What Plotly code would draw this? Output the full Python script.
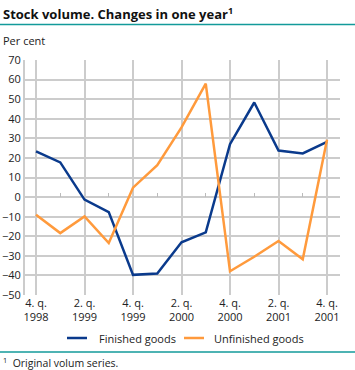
import plotly.graph_objects as go

quarters = ["4q1998", "1q1999", "2q1999", "3q1999", "4q1999", "1q2000", "2q2000",
            "3q2000", "4q2000", "1q2001", "2q2001", "3q2001", "4q2001"]
tick_labels = ["4. q.<br>1998", "2. q.<br>1999", "4. q.<br>1999", "2. q.<br>2000",
               "4. q.<br>2000", "2. q.<br>2001", "4. q.<br>2001"]
finished = [23.3, 17.7, -1.3, -7.7, -39.7, -39.0, -23.1, -18.0, 27.0, 48.3, 23.8, 22.3, 28.2]
unfinished = [-9.0, -18.4, -9.9, -23.5, 4.8, 16.3, 35.6, 57.9, -37.9, -30.5, -22.4, -31.8, 29.3]
y_ticks = list(range(-50, 71, 10))
series_names = ["Finished goods", "Unfinished goods"]

BLUE = "#0a3a8c"
ORANGE = "#ff9a3c"
GRID = "#cccccc"
TEAL = "#139a9a"
FONT = "Open Sans"

L, R, T, B = 25, 15, 60, 75
PW, PH = 355 - L - R, 370 - T - B


def px(xpix):
    return (xpix - L) / PW


def py(ypix):
    return (370 - B - ypix) / PH


fig = go.Figure()
fig.add_trace(go.Scatter(x=quarters, y=finished, mode="lines", name=series_names[0],
                         line=dict(color=BLUE, width=2.5), showlegend=False))
fig.add_trace(go.Scatter(x=quarters, y=unfinished, mode="lines", name=series_names[1],
                         line=dict(color=ORANGE, width=2.5), showlegend=False))
# helper trace for minor tick axis at zero
fig.add_trace(go.Scatter(x=quarters, y=[None] * len(quarters), xaxis="x2", mode="lines",
                         showlegend=False, hoverinfo="skip"))

fig.update_layout(
    width=355, height=370,
    margin=dict(l=L, r=R, t=T, b=B, autoexpand=False),
    paper_bgcolor="white", plot_bgcolor="white",
    font=dict(family=FONT, size=11, color="#222222"),
    showlegend=False,
    xaxis=dict(type="category", categoryorder="array", categoryarray=quarters,
               range=[-0.454, 12.536], tickvals=quarters[::2], ticktext=tick_labels,
               showgrid=True, gridcolor=GRID, gridwidth=2, ticks="", showline=False,
               zeroline=False, tickfont=dict(size=11), automargin=False),
    xaxis2=dict(type="category", categoryorder="array", categoryarray=quarters,
                overlaying="x", anchor="free", position=50 / 120, matches="x",
                tickvals=quarters[1::2], ticks="inside", ticklen=4, tickwidth=1,
                tickcolor="#bbbbbb", showticklabels=False, showgrid=False,
                showline=False, zeroline=False, automargin=False),
    yaxis=dict(range=[-50, 70], tickvals=y_ticks, showgrid=True, gridcolor=GRID,
               gridwidth=2, zeroline=False, showline=True, linecolor=GRID, linewidth=2,
               ticks="", tickfont=dict(size=11), automargin=False),
)

fig.add_annotation(text="<b>Stock volume. Changes in one year<sup>1</sup></b>",
                   xref="paper", yref="paper", x=px(1), y=py(13),
                   xanchor="left", yanchor="middle", showarrow=False,
                   font=dict(size=13, color="#111111"))
fig.add_annotation(text="Per cent", xref="paper", yref="paper", x=px(1),
                   y=py(40), xanchor="left", yanchor="middle", showarrow=False,
                   font=dict(size=11))
fig.add_annotation(text="<sup>1</sup>  Original volum series.", xref="paper", yref="paper",
                   x=px(1), y=py(362), xanchor="left", yanchor="middle",
                   showarrow=False, font=dict(size=10.5))
fig.add_shape(type="line", xref="paper", yref="paper", x0=px(0), x1=px(355),
              y0=py(24.5), y1=py(24.5), line=dict(color=TEAL, width=1.5))
fig.add_shape(type="line", xref="paper", yref="paper", x0=px(0), x1=px(355),
              y0=py(352), y1=py(352), line=dict(color=TEAL, width=1.5))

# legend (manual)
for name, color, x0, xt in [(series_names[0], BLUE, 67, 97), (series_names[1], ORANGE, 184, 212)]:
    fig.add_shape(type="line", xref="paper", yref="paper", x0=px(x0), x1=px(x0 + 20),
                  y0=py(338), y1=py(338), line=dict(color=color, width=2.5))
    fig.add_annotation(text=name, xref="paper", yref="paper", x=px(xt), y=py(338),
                       xanchor="left", yanchor="middle", showarrow=False,
                       font=dict(size=11))

fig.write_html("out.html", config={"displayModeBar": False},
               post_script="document.body.style.margin='0';document.body.style.padding='0';")
